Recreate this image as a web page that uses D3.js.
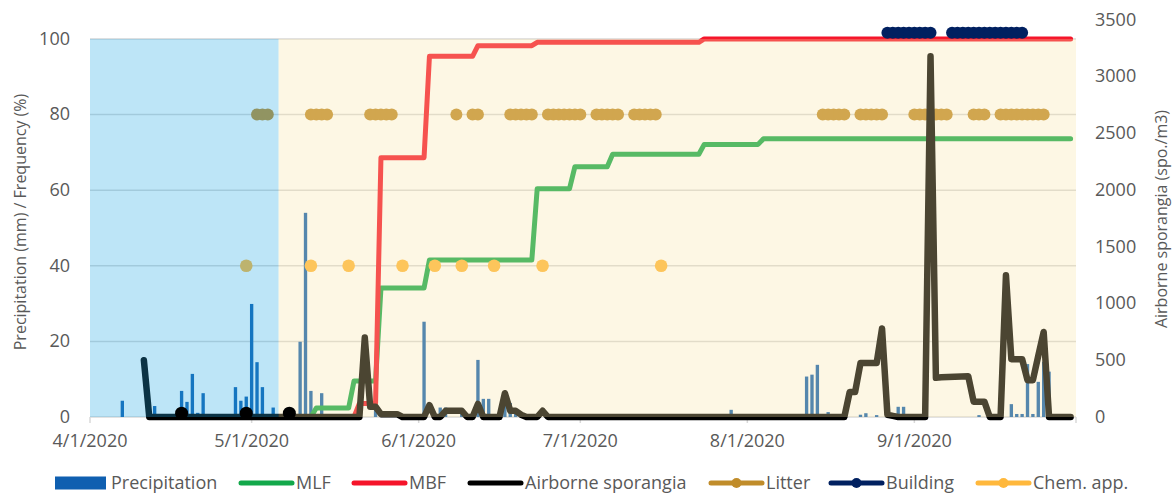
<!DOCTYPE html>
<html>
<head>
<meta charset="utf-8">
<script src="https://cdn.jsdelivr.net/npm/d3@7"></script>
<style>
  body { margin: 0; background: #fff; }
  text { font-family: "Open Sans", sans-serif; fill: #595959; }
</style>
</head>
<body>
<div id="container"></div>
<script>

// 1 - DATA

// daily precipitation (mm, left axis)
const precipDates = ['4/7/2020','4/13/2020','4/18/2020','4/19/2020','4/20/2020','4/21/2020','4/22/2020',
  '4/28/2020','4/29/2020','4/30/2020','5/1/2020','5/2/2020','5/3/2020','5/5/2020','5/10/2020','5/11/2020',
  '5/12/2020','5/14/2020','5/24/2020','6/2/2020','6/5/2020','6/6/2020','6/9/2020','6/12/2020','6/13/2020',
  '6/14/2020','6/17/2020','6/18/2020','6/19/2020','6/20/2020','7/29/2020','8/12/2020','8/13/2020','8/14/2020',
  '8/16/2020','8/22/2020','8/23/2020','8/25/2020','8/29/2020','8/30/2020','9/13/2020','9/19/2020','9/20/2020',
  '9/21/2020','9/22/2020','9/23/2020','9/24/2020','9/25/2020','9/26/2020'];
const precipValues = [4.3, 2.9, 6.9, 4.0, 11.4, 1.1, 6.3,
  7.9, 4.3, 5.4, 29.9, 14.5, 7.9, 2.5, 19.9, 54,
  6.9, 6.3, 2.3, 25.2, 2.5, 2.5, 1, 15.1, 4.8,
  4.8, 3, 3.7, 2, 1, 1.9, 10.7, 11.2, 13.8,
  1.3, 0.6, 1.0, 0.5, 2.7, 2.7, 0.5, 3.4, 0.8,
  0.8, 14, 0.8, 9.3, 14.6, 12];

// MLF frequency (%, left axis) - points where the step changes
const mlfDates = ['5/6/2020','5/12/2020','5/13/2020','5/19/2020','5/20/2020','5/24/2020','5/25/2020',
  '6/2/2020','6/3/2020','6/22/2020','6/23/2020','6/29/2020','6/30/2020','7/6/2020','7/7/2020',
  '7/23/2020','7/24/2020','8/3/2020','8/4/2020','9/30/2020'];
const mlfValues = [0, 0, 2.4, 2.4, 9.5, 9.5, 34.1, 34.1, 41.5, 41.5, 60.4, 60.4, 66.2, 66.2, 69.5,
  69.5, 72.1, 72.1, 73.6, 73.6];

// MBF frequency (%, left axis)
const mbfDates = ['5/6/2020','5/20/2020','5/21/2020','5/24/2020','5/25/2020','6/2/2020','6/3/2020',
  '6/11/2020','6/12/2020','6/22/2020','6/23/2020','7/23/2020','7/24/2020','9/30/2020'];
const mbfValues = [0, 0, 3.6, 3.6, 68.6, 68.6, 95.4, 95.4, 98.2, 98.2, 99.1, 99.1, 100, 100];

// airborne sporangia (spo./m3, right axis)
const sporDates = ['4/11/2020','4/12/2020','5/21/2020','5/22/2020','5/23/2020','5/24/2020','5/25/2020',
  '5/28/2020','5/29/2020','6/2/2020','6/3/2020','6/4/2020','6/5/2020','6/6/2020','6/9/2020','6/10/2020',
  '6/11/2020','6/12/2020','6/13/2020','6/16/2020','6/17/2020','6/18/2020','6/19/2020','6/20/2020',
  '6/21/2020','6/23/2020','6/24/2020','6/25/2020','8/19/2020','8/20/2020','8/21/2020','8/22/2020',
  '8/25/2020','8/26/2020','8/27/2020','8/28/2020','8/29/2020','9/3/2020','9/4/2020','9/5/2020',
  '9/6/2020','9/11/2020','9/12/2020','9/14/2020','9/15/2020','9/17/2020','9/18/2020','9/19/2020',
  '9/21/2020','9/22/2020','9/23/2020','9/24/2020','9/25/2020','9/26/2020','9/30/2020'];
const sporValues = [500, 0, 0, 700, 90, 90, 25,
  25, 0, 0, 105, 0, 0, 55, 55, 0,
  0, 115, 0, 0, 210, 55, 55, 20,
  0, 0, 55, 0, 0, 220, 220, 475,
  475, 780, 20, 10, 0, 0, 3180, 345,
  350, 360, 135, 135, 0, 0, 1250, 510,
  510, 325, 325, 540, 750, 0, 0];
const sporMarkDates = ['4/18/2020','4/30/2020','5/8/2020'];

// event rows
const litterDates = ['5/2/2020','5/3/2020','5/4/2020',
  '5/12/2020','5/13/2020','5/14/2020','5/15/2020',
  '5/23/2020','5/24/2020','5/25/2020','5/26/2020','5/27/2020',
  '6/8/2020','6/11/2020','6/12/2020',
  '6/18/2020','6/19/2020','6/20/2020','6/21/2020','6/22/2020',
  '6/25/2020','6/26/2020','6/27/2020','6/28/2020','6/29/2020','6/30/2020','7/1/2020',
  '7/4/2020','7/5/2020','7/6/2020','7/7/2020','7/8/2020',
  '7/11/2020','7/12/2020','7/13/2020','7/14/2020','7/15/2020',
  '8/15/2020','8/16/2020','8/17/2020','8/18/2020','8/19/2020',
  '8/22/2020','8/23/2020','8/24/2020','8/25/2020','8/26/2020',
  '9/1/2020','9/2/2020','9/3/2020','9/4/2020','9/5/2020','9/6/2020','9/7/2020',
  '9/12/2020','9/13/2020','9/14/2020',
  '9/17/2020','9/18/2020','9/19/2020','9/20/2020','9/21/2020','9/22/2020','9/23/2020','9/24/2020','9/25/2020'];
const litterLevel = 80;
const buildingDates = ['8/27/2020','8/28/2020','8/29/2020','8/30/2020','8/31/2020','9/1/2020','9/2/2020',
  '9/3/2020','9/4/2020',
  '9/8/2020','9/9/2020','9/10/2020','9/11/2020','9/12/2020','9/13/2020','9/14/2020','9/15/2020',
  '9/16/2020','9/17/2020','9/18/2020','9/19/2020','9/20/2020','9/21/2020'];
const buildingLevel = 101.6;
const chemDates = ['4/30/2020','5/12/2020','5/19/2020','5/29/2020','6/4/2020','6/9/2020','6/15/2020',
  '6/24/2020','7/16/2020'];
const chemLevel = 40;

// shaded periods
const periodStarts = ['4/1/2020', '5/6/2020'];
const periodEnds = ['5/6/2020', '10/1/2020'];

// axes
const xTickDates = ['4/1/2020','5/1/2020','6/1/2020','7/1/2020','8/1/2020','9/1/2020','10/1/2020'];
const xTickLabels = ['4/1/2020','5/1/2020','6/1/2020','7/1/2020','8/1/2020','9/1/2020',''];
const leftTicks = [0, 20, 40, 60, 80, 100];
const rightTicks = [0, 500, 1000, 1500, 2000, 2500, 3000, 3500];

const legendNames = ['Precipitation','MLF','MBF','Airborne sporangia','Litter','Building','Chem. app.'];


// 2 - SETUP

const width = 1174;
const height = 493;
const margins = { top: 20, bottom: 76, left: 90, right: 98 };

const parseDate = d3.timeParse('%m/%d/%Y');
const pairs = (dates, values) => dates.map((d, i) => ({ date: parseDate(d), value: values[i] }));

const precip = pairs(precipDates, precipValues);
const mlf = pairs(mlfDates, mlfValues);
const mbf = pairs(mbfDates, mbfValues);
const spor = pairs(sporDates, sporValues);

const colors = {
  precip: '#0F5FB0', mlf: '#12A84A', mbf: '#F5142A', spor: '#000000',
  litter: '#C08C2A', building: '#002060', chem: '#FFB83C'
};


// 3 - SCALES

const xScale = d3.scaleTime()
  .domain([parseDate('4/1/2020'), parseDate('10/1/2020')])
  .range([margins.left, width - margins.right]);

const yLeft = d3.scaleLinear()
  .domain([0, 105])
  .range([height - margins.bottom, margins.top]);

const yRight = d3.scaleLinear()
  .domain([0, 3500])
  .range([height - margins.bottom, margins.top]);

const dayW = xScale(parseDate('4/2/2020')) - xScale(parseDate('4/1/2020'));
const barW = dayW * 0.62;


// 4 - ELEMENTS

const svg = d3.select('#container')
  .append('svg')
  .attr('width', width)
  .attr('height', height);

const x0 = xScale.range()[0], x1 = xScale.range()[1];
const yBase = yLeft(0);

// gridlines
svg.selectAll('line.grid')
  .data(leftTicks.filter(t => t > 0))
  .join('line')
  .attr('class', 'grid')
  .attr('x1', x0).attr('x2', x1)
  .attr('y1', d => yLeft(d)).attr('y2', d => yLeft(d))
  .attr('stroke', '#D9D9D9')
  .attr('stroke-width', 1.5);

// bottom axis line + ticks
svg.append('line')
  .attr('x1', x0).attr('x2', x1)
  .attr('y1', yBase).attr('y2', yBase)
  .attr('stroke', '#D9D9D9').attr('stroke-width', 1.5);

svg.selectAll('line.xtick')
  .data(xTickDates)
  .join('line')
  .attr('class', 'xtick')
  .attr('x1', d => xScale(parseDate(d))).attr('x2', d => xScale(parseDate(d)))
  .attr('y1', yBase).attr('y2', yBase + 6)
  .attr('stroke', '#D9D9D9').attr('stroke-width', 1.5);

// precipitation bars
svg.selectAll('rect.precip')
  .data(precip)
  .join('rect')
  .attr('class', 'precip')
  .attr('x', d => xScale(d.date) - barW / 2)
  .attr('width', barW)
  .attr('y', d => yLeft(d.value))
  .attr('height', d => yBase - yLeft(d.value))
  .attr('fill', colors.precip);

// frequency lines
const leftLine = d3.line()
  .x(d => xScale(d.date))
  .y(d => yLeft(d.value));

svg.append('path')
  .datum(mlf)
  .attr('d', leftLine)
  .attr('fill', 'none')
  .attr('stroke', colors.mlf)
  .attr('stroke-width', 5)
  .attr('stroke-linejoin', 'round')
  .attr('stroke-linecap', 'round');

svg.append('path')
  .datum(mbf)
  .attr('d', leftLine)
  .attr('fill', 'none')
  .attr('stroke', colors.mbf)
  .attr('stroke-width', 5)
  .attr('stroke-linejoin', 'round')
  .attr('stroke-linecap', 'round');

// chem app + litter rows
svg.selectAll('circle.chem')
  .data(chemDates)
  .join('circle')
  .attr('class', 'chem')
  .attr('cx', d => xScale(parseDate(d)))
  .attr('cy', yLeft(chemLevel))
  .attr('r', 6.3)
  .attr('fill', colors.chem);

svg.selectAll('circle.litter')
  .data(litterDates)
  .join('circle')
  .attr('class', 'litter')
  .attr('cx', d => xScale(parseDate(d)))
  .attr('cy', yLeft(litterLevel))
  .attr('r', 6)
  .attr('fill', colors.litter);

// airborne sporangia
const rightLine = d3.line()
  .x(d => xScale(d.date))
  .y(d => yRight(d.value));

svg.append('path')
  .datum(spor)
  .attr('d', rightLine)
  .attr('fill', 'none')
  .attr('stroke', colors.spor)
  .attr('stroke-width', 6.5)
  .attr('stroke-linejoin', 'round')
  .attr('stroke-linecap', 'round');

// shaded periods, drawn over the data with transparency
const periodFills = ['rgb(35,168,228)', 'rgb(250,230,167)'];
svg.selectAll('rect.period')
  .data(periodStarts)
  .join('rect')
  .attr('class', 'period')
  .attr('x', d => xScale(parseDate(d)))
  .attr('width', (d, i) => xScale(parseDate(periodEnds[i])) - xScale(parseDate(d)))
  .attr('y', yLeft(100))
  .attr('height', yBase - yLeft(100))
  .attr('fill', (d, i) => periodFills[i])
  .attr('fill-opacity', 0.3);

// black markers on the sporangia line
svg.selectAll('circle.spormark')
  .data(sporMarkDates)
  .join('circle')
  .attr('class', 'spormark')
  .attr('cx', d => xScale(parseDate(d)))
  .attr('cy', yLeft(1))
  .attr('r', 6.5)
  .attr('fill', '#000');

// building row
svg.selectAll('circle.building')
  .data(buildingDates)
  .join('circle')
  .attr('class', 'building')
  .attr('cx', d => xScale(parseDate(d)))
  .attr('cy', yLeft(buildingLevel))
  .attr('r', 6)
  .attr('fill', colors.building);


// 5 - AXIS TEXT

svg.selectAll('text.yleft')
  .data(leftTicks)
  .join('text')
  .attr('class', 'yleft')
  .attr('x', 70)
  .attr('y', d => yLeft(d))
  .attr('dy', '0.32em')
  .attr('text-anchor', 'end')
  .style('font-size', '18px')
  .text(d => d);

svg.selectAll('text.yright')
  .data(rightTicks)
  .join('text')
  .attr('class', 'yright')
  .attr('x', 1095)
  .attr('y', d => yRight(d))
  .attr('dy', '0.32em')
  .attr('text-anchor', 'start')
  .style('font-size', '18px')
  .text(d => d);

svg.selectAll('text.xlab')
  .data(xTickDates)
  .join('text')
  .attr('class', 'xlab')
  .attr('x', d => xScale(parseDate(d)))
  .attr('y', 447)
  .attr('text-anchor', 'middle')
  .style('font-size', '18px')
  .text((d, i) => xTickLabels[i]);

svg.append('text')
  .attr('transform', 'translate(20,222) rotate(-90)')
  .attr('text-anchor', 'middle')
  .attr('dy', '0.36em')
  .style('font-size', '16px')
  .text('Precipitation (mm) / Frequency (%)');

svg.append('text')
  .attr('transform', 'translate(1161,219) rotate(-90)')
  .attr('text-anchor', 'middle')
  .attr('dy', '0.36em')
  .style('font-size', '16px')
  .text('Airborne sporangia (spo./m3)');


// 6 - LEGEND

const legendX = [55, 239, 352, 468, 709, 829, 976];
const legendKinds = ['rect', 'line', 'line', 'line', 'dot', 'dot', 'dot'];
const legendColors = [colors.precip, colors.mlf, colors.mbf, colors.spor, colors.litter, colors.building, colors.chem];
const legY = 483;
const swatchW = 55;

const legend = svg.selectAll('g.legend')
  .data(legendNames)
  .join('g')
  .attr('class', 'legend')
  .attr('transform', (d, i) => `translate(${legendX[i]},${legY})`);

legend.filter((d, i) => legendKinds[i] === 'rect')
  .append('rect')
  .attr('x', 0).attr('y', -6.5)
  .attr('width', 51).attr('height', 13)
  .attr('fill', colors.precip);

legend.filter((d, i) => legendKinds[i] !== 'rect')
  .append('line')
  .attr('x1', 2).attr('x2', swatchW - 2)
  .attr('y1', 0).attr('y2', 0)
  .attr('stroke', d => legendColors[legendNames.indexOf(d)])
  .attr('stroke-width', 5)
  .attr('stroke-linecap', 'round');

legend.filter((d, i) => legendKinds[i] === 'dot')
  .append('circle')
  .attr('cx', swatchW / 2).attr('cy', 0)
  .attr('r', 5)
  .attr('fill', d => legendColors[legendNames.indexOf(d)]);

legend.append('text')
  .attr('x', (d, i) => legendKinds[i] === 'rect' ? 56 : swatchW + 2)
  .attr('y', 0)
  .attr('dy', '0.36em')
  .style('font-size', '18px')
  .text(d => d);

</script>
</body>
</html>
